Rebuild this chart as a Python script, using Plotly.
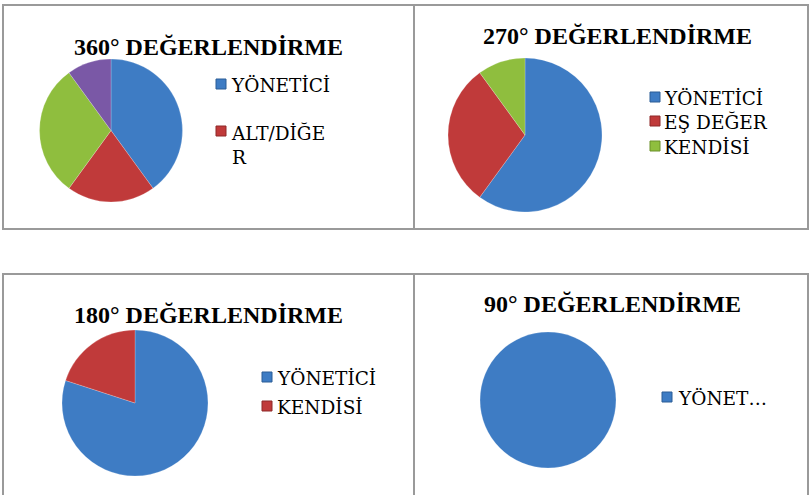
import plotly.graph_objects as go

W, H = 810, 495

# ---- data ----
titles = ["360° DEĞERLENDİRME", "270° DEĞERLENDİRME", "180° DEĞERLENDİRME", "90° DEĞERLENDİRME"]

labels_360 = ["YÖNETİCİ", "ALT/DİĞER", "EŞ DEĞER", "KENDİSİ"]
values_360 = [40, 20, 30, 10]
legend_360 = ["YÖNETİCİ", "ALT/DİĞE<br>R"]

labels_270 = ["YÖNETİCİ", "EŞ DEĞER", "KENDİSİ"]
values_270 = [60, 30, 10]
legend_270 = ["YÖNETİCİ", "EŞ DEĞER", "KENDİSİ"]

labels_180 = ["YÖNETİCİ", "KENDİSİ"]
values_180 = [80, 20]
legend_180 = ["YÖNETİCİ", "KENDİSİ"]

labels_90 = ["YÖNETİCİ"]
values_90 = [100]
legend_90 = ["YÖNET…"]

colors = ["#3E7CC4", "#C03A3A", "#8FBE3E", "#7A58A6"]
colors_270 = ["#3E7CC4", "#C03A3A", "#8FBE3E"]
colors_180 = ["#3E7CC4", "#C03A3A"]
edge_colors = ["#2B5C96", "#8E2828", "#6A9028", "#5A3F80"]

# ---- layout helpers (pixels -> paper) ----
def px(x):
    return x / W

def py(y):
    return 1 - y / H

def dom(cx, cy, r):
    return dict(x=[px(cx - r), px(cx + r)], y=[py(cy + r), py(cy - r)])

FONT = "Liberation Serif"
LEG_FONT = "DejaVu Serif"

fig = go.Figure()

pies = [
    (labels_360, values_360, colors, (111, 130.5, 71.5)),
    (labels_270, values_270, colors_270, (525, 135, 77)),
    (labels_180, values_180, colors_180, (135, 403, 73)),
    (labels_90, values_90, colors[:1], (548, 400, 68)),
]
for lab, val, col, (cx, cy, r) in pies:
    fig.add_trace(go.Pie(
        labels=lab, values=val, sort=False, direction="clockwise", rotation=0,
        marker=dict(colors=col, line=dict(color="rgba(255,255,255,0.35)", width=0.6)),
        textinfo="none", hoverinfo="label+percent", showlegend=False,
        domain=dom(cx, cy, r),
    ))

fig.update_layout(
    width=W, height=H,
    margin=dict(l=0, r=0, t=0, b=0),
    font=dict(family=FONT, size=20, color="black"),
    paper_bgcolor="white", plot_bgcolor="white",
    showlegend=False,
)

# boxes
boxes = [(3, 5, 414, 229), (414, 5, 808, 229), (3, 274, 414, 520), (414, 274, 808, 520)]
for x0, y0, x1, y1 in boxes:
    fig.add_shape(type="rect", xref="paper", yref="paper",
                  x0=px(x0), x1=px(x1), y0=py(y1), y1=py(y0),
                  line=dict(color="#9A9A9A", width=2), fillcolor="rgba(0,0,0,0)", layer="below")

# titles
title_pos = [(208, 47), (617, 36), (208, 315), (612, 304)]
for t, (x, y) in zip(titles, title_pos):
    fig.add_annotation(text=t, xref="paper", yref="paper", x=px(x), y=py(y),
                       xanchor="center", yanchor="middle", showarrow=False,
                       font=dict(family=FONT, size=24, color="black", weight="bold"))

# legends: (entries, marker centre x, text left x, row centre y of each entry)
legends = [
    (legend_360, 221, 231, [84, 131]),
    (legend_270, 655, 664, [97, 121, 146]),
    (legend_180, 267, 277, [377, 406]),
    (legend_90, 667, 678, [397]),
]
LINE = 26
for names, mx, tx, rows in legends:
    for i, (n, ry) in enumerate(zip(names, rows)):
        s = 5
        fig.add_shape(type="rect", xref="paper", yref="paper",
                      x0=px(mx - s), x1=px(mx + s), y0=py(ry + s), y1=py(ry - s),
                      fillcolor=colors[i], line=dict(color=edge_colors[i], width=1))
        nlines = n.count("<br>") + 1
        cy = ry + (nlines - 1) * LINE / 2
        fig.add_annotation(text=n, xref="paper", yref="paper", x=px(tx - 2), y=py(cy + 1),
                           xanchor="left", yanchor="middle", align="left", showarrow=False,
                           font=dict(family=LEG_FONT, size=18.5, color="black"))

fig.write_html("out.html", config={"displayModeBar": False},
               post_script="document.body.style.margin='0';")
